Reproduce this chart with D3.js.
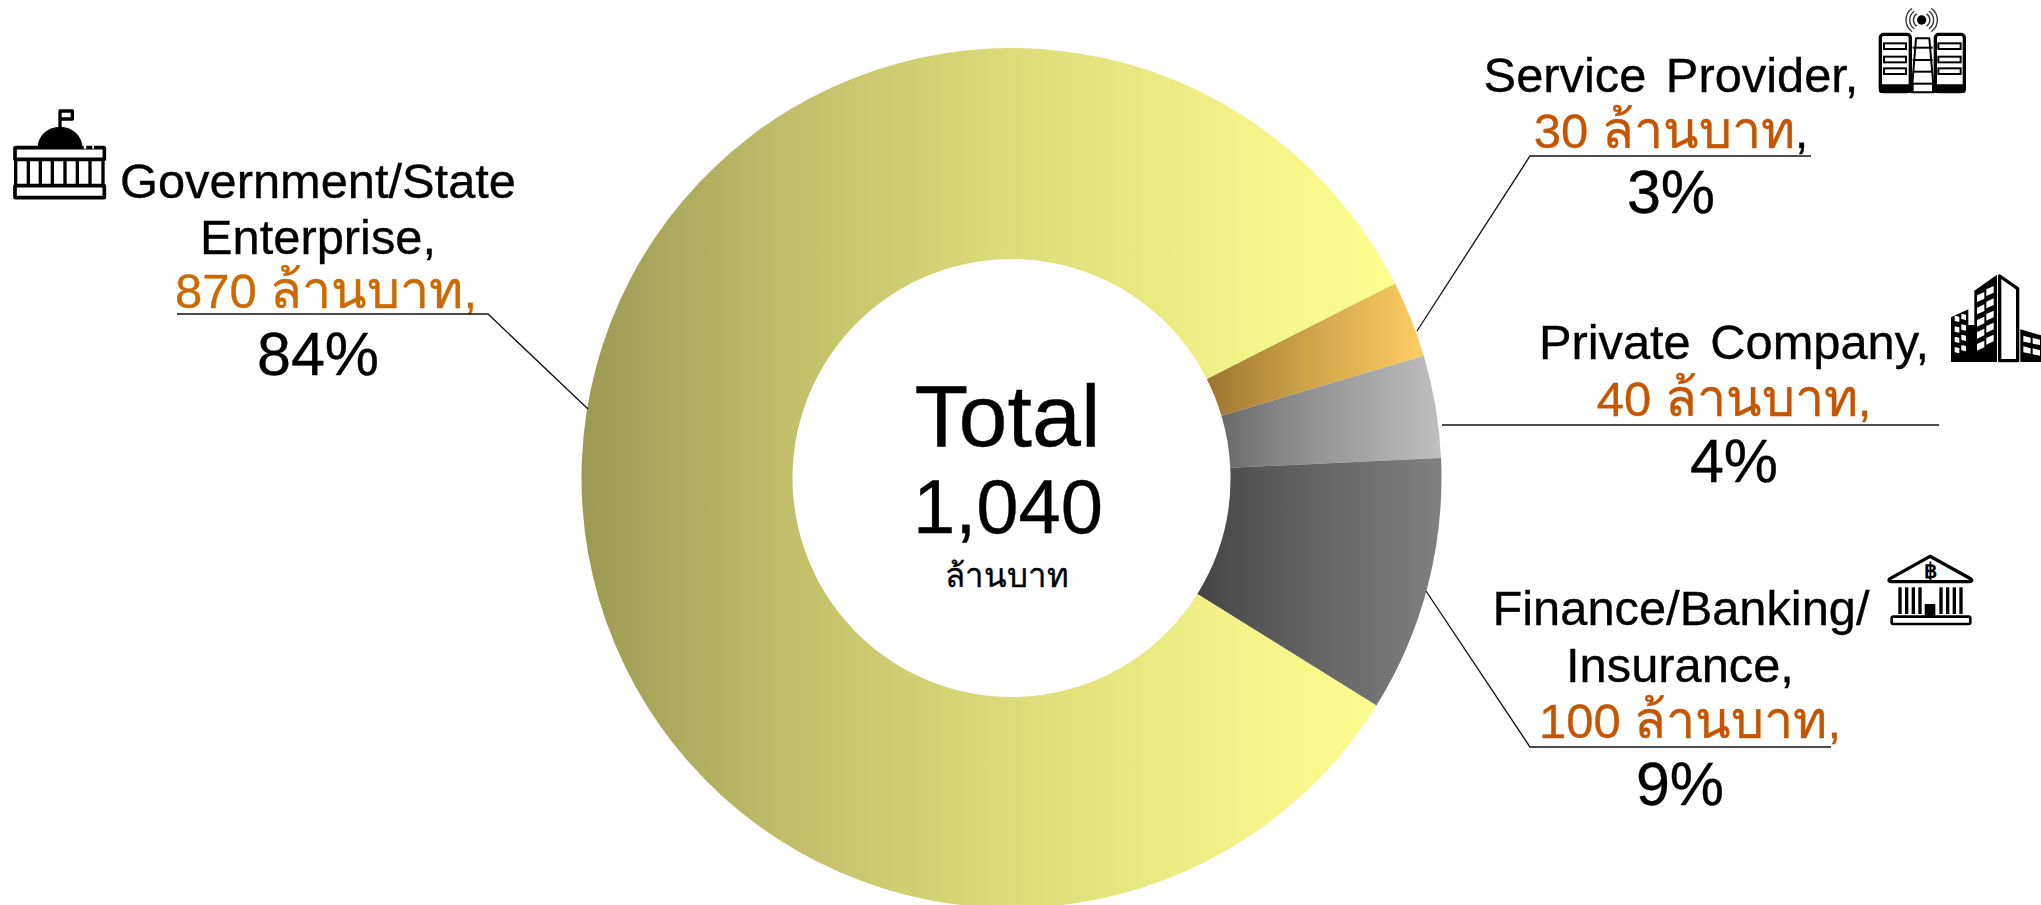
<!DOCTYPE html>
<html><head><meta charset="utf-8">
<script src="https://cdn.jsdelivr.net/npm/d3@7"></script>
<style>html,body{margin:0;background:#fff}svg{display:block}</style></head>
<body><svg id="c" width="2041" height="905"></svg>
<script>
const categories=["Service Provider","Private Company","Finance/Banking/Insurance","Government/State Enterprise"];
const values=[30,40,100,870];
const percentLabels=["3%","4%","9%","84%"];
const gradientStops=[["#9c7430","#fdce60"],["#6a6a6a","#bfbfbf"],["#444444","#808080"],["#9c9a52","#ffff8f"]];
const stopOffsets=[0,.25,.5,.75,1];
const stopWeights=[[0,.3,.55,.78,1],[0,.3,.55,.78,1],[0,.3,.55,.78,1],[0,.36,.62,.83,1]];
const font='"Liberation Sans",Arial,sans-serif';
const svg=d3.select("#c");
const defs=svg.append("defs");
gradientStops.forEach((s,i)=>{const g=defs.append("linearGradient").attr("id","g"+i).attr("x1",0).attr("x2",1).attr("y1",0).attr("y2",0);
 const c=d3.interpolateRgb(s[0],s[1]);
 stopOffsets.forEach((o,k)=>g.append("stop").attr("offset",o).attr("stop-color",c(stopWeights[i][k])));});
const pie=d3.pie().sort(null).startAngle(63.1*Math.PI/180).endAngle((63.1+360)*Math.PI/180);
const arc=d3.arc().innerRadius(219).outerRadius(430);
svg.append("g").attr("transform","translate(1011.5,478)").selectAll("path").data(pie(values)).join("path").attr("d",arc).attr("fill",(d,i)=>`url(#g${i})`);
function T(x,y,t,size,fill="#000"){return svg.append("text").attr("x",x).attr("y",y).attr("text-anchor","middle").attr("font-family",font).attr("font-size",size).attr("fill",fill).attr("stroke",fill).attr("stroke-width",0.35).text(t);}
const thai="ล้านบาท";
function A(x,y,v,fill,commaFill){const t=T(x,y,v+" ",49,fill);t.append("tspan").attr("font-size",52).text(thai);t.append("tspan").attr("fill",commaFill||fill).attr("stroke",commaFill||fill).text(",");return t;}
T(1007.5,446,"Total",88);T(1008,533,"1,040",76);T(1007,587,thai,33);
const org="#c55500",org2="#cc6900";
function L(pts,w=1.3){svg.append("path").attr("d",d3.line()(pts)).attr("fill","none").attr("stroke","#111").attr("stroke-width",w);}
T(318,198,"Government/State",48.8);T(318,254,"Enterprise,",48.8);A(326,308,values[3],org2);T(318,375,percentLabels[3],61);
L([[177,314],[488,314],[588,409]]);
T(1671,92,"Service Provider,",48.8).attr("word-spacing",6);
A(1671,148,values[0],org,"#000");T(1671,213,percentLabels[0],61);
L([[1417,331],[1530,156],[1811,156]]);
T(1734,359,"Private Company,",48.8).attr("word-spacing",6);A(1734,416,values[1],org);T(1734,482,percentLabels[1],61);
L([[1442,425],[1939,425]]);
T(1681,625,"Finance/Banking/",48.8);T(1680,682,"Insurance,",48.8);A(1690,738,values[2],org);T(1680,805,percentLabels[2],61);
L([[1426,591],[1530,747],[1831,747]]);

// decorative pictograms, drawn at 1/3 of the local unit
function icon(x,y){return svg.append("g").attr("transform",`translate(${x},${y}) scale(${1/3})`);}
function R(g,x,y,w,h,fill,stroke,sw,r){return g.append("rect").attr("x",x).attr("y",y).attr("width",w).attr("height",h).attr("rx",r||0).attr("fill",fill).attr("stroke",stroke||"none").attr("stroke-width",sw||0);}
function P(g,d,fill,stroke,sw){return g.append("path").attr("d",d).attr("fill",fill).attr("stroke",stroke||"none").attr("stroke-width",sw||0).attr("stroke-linejoin","round").attr("stroke-linecap","round");}

// government
let g=icon(5,105);
P(g,"M165 65V18H202V42H165","none","#000",10);
P(g,"M98 127A67 62 0 0 1 232 127Z","#000");
R(g,30,128,268,35,"#fff","#000",11,2);
R(g,236,121,8,10,"#fff");R(g,262,121,5,10,"#fff");
[32,70,106,142,180,217,255,294].forEach(x=>R(g,x-5,160,10,84,"#000"));
R(g,30,242,268,36,"#fff","#000",11,2);

// service provider
g=icon(1870,5);
g.append("circle").attr("cx",155).attr("cy",45).attr("r",14).attr("fill","#000");
[22,32,42].forEach(r=>{
 P(g,`M${155+r*0.72} ${45-r*0.8}A${r} ${r} 0 0 1 ${155+r*0.72} ${45+r*0.8}`,"none","#333",4);
 P(g,`M${155-r*0.72} ${45-r*0.8}A${r} ${r} 0 0 0 ${155-r*0.72} ${45+r*0.8}`,"none","#333",4);});
[[27,125,42,108],[192,287,205,272]].forEach(([a,b,c,d])=>{
 R(g,a+4,88,b-a-8,172,"#fff","#000",10,10);
 R(g,a,238,b-a,26,"#000",null,0,6);
 [115,155,190].forEach(y=>R(g,c,y,d-c,17,"#fff","#000",6));
});
P(g,"M138 100H178L192 262H125Z","#fff","#000",6);
[128,165,200,236].forEach(y=>R(g,128,y-3,60,6,"#000"));
R(g,125,238,6,26,"#000");R(g,186,238,6,26,"#000");

// private company
g=icon(1941,270);
P(g,"M100 62L168 14V276H30V142L82 118V165H100Z","#000");
function win(g,x,y,w,h,s){P(g,`M${x} ${y+s}L${x+w} ${y}V${y+h}L${x} ${y+h+s}Z`,"#fff");}
[58,95,132,168,204].forEach(y=>{win(g,108,y+8,22,20,10);win(g,136,y-10,22,20,10);});
[140,172,203,234].forEach(y=>{win(g,41,y,14,16,-3);win(g,61,y-6,14,16,-3);});
P(g,"M176 18L230 56V272H176Z","#fff","#000",10);
P(g,"M238 178L300 196V276H238Z","#000");
[[247,200],[275,206],[247,232],[275,238]].forEach(([x,y])=>P(g,`M${x} ${y-3}L${x+22} ${y+3}V${y+19}L${x} ${y+15}Z`,"#fff"));

// finance
g=icon(1880,548);
P(g,"M150 25L272 92Q280 100 268 101H36Q22 100 30 92Z","#fff","#000",10);
g.append("text").attr("x",151).attr("y",90).attr("text-anchor","middle").attr("font-family",font).attr("font-weight","bold").attr("font-size",62).attr("fill","#000").text("฿");
[60,80,100,120,183,203,223,243].forEach(x=>R(g,x-5,118,10,80,"#000"));
R(g,134,168,32,40,"#000");
R(g,35,206,236,22,"#fff","#000",8,5);
</script></body></html>
